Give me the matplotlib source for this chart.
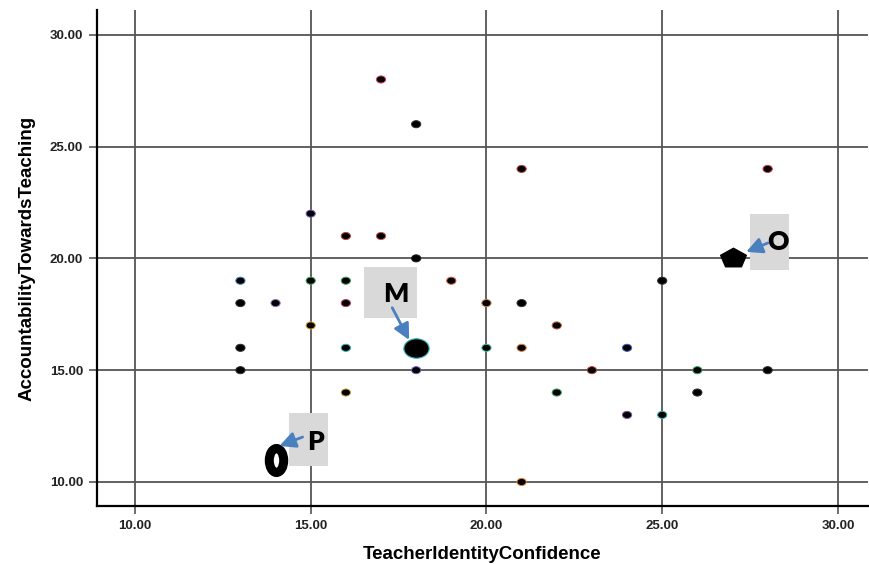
import numpy as np
import matplotlib.pyplot as plt
from matplotlib.path import Path
from matplotlib.transforms import Affine2D

# scatter data (TeacherIdentityConfidence, AccountabilityTowardsTeaching)
tic = [17, 18, 21, 28, 15, 16, 17, 18, 13, 15, 16, 19, 25, 13, 14, 16, 20, 21,
       15, 22, 13, 16, 20, 21, 24, 13, 18, 23, 26, 28, 16, 22, 26, 24, 25, 21]
att = [28, 26, 24, 24, 22, 21, 21, 20, 19, 19, 19, 19, 19, 18, 18, 18, 18, 18,
       17, 17, 16, 16, 16, 16, 16, 15, 15, 15, 15, 15, 14, 14, 14, 13, 13, 10]
edge_cols = ['#d04060', '#303030', '#c04040', '#d03050', '#8060c0', '#c04040',
             '#c05050', '#202020', '#4080c0', '#40a060', '#40a060', '#d06040',
             '#303030', '#303030', '#9070c0', '#c04060', '#c08040', '#303030',
             '#e0a020', '#c06040', '#303030', '#30b0b0', '#40c0a0', '#e08040',
             '#4060c0', '#303030', '#8060c0', '#c04040', '#40a060', '#303030',
             '#c0a040', '#40a060', '#303030', '#8050a0', '#30b0b0', '#e08030']

# highlighted cases
special_x = {'M': 18, 'O': 27, 'P': 14}
special_y = {'M': 16, 'O': 20, 'P': 11}

xticks = [10, 15, 20, 25, 30]
yticks = [10, 15, 20, 25, 30]

plt.rcParams['font.family'] = ['Liberation Sans', 'DejaVu Sans']

fig = plt.figure(figsize=(8.7, 5.64), dpi=100)
ax = fig.add_axes([0.1115, 0.103, 0.886, 0.879])

ellipse = Path.unit_circle().transformed(Affine2D().scale(1.3, 1.0))

ax.set_xlim(8.92, 30.85)
ax.set_ylim(8.93, 31.1)
ax.set_xticks(xticks)
ax.set_yticks(yticks)
ax.set_xticklabels([f'{v:.2f}' for v in xticks], fontsize=9.5, fontweight='bold', color='#222222')
ax.set_yticklabels([f'{v:.2f}' for v in yticks], fontsize=9.5, fontweight='bold', color='#222222')
ax.tick_params(axis='both', length=6, width=1.2, color='#555555', pad=4)
ax.grid(True, color='#555555', linewidth=1.3)
ax.set_axisbelow(True)
for side in ['top', 'right']:
    ax.spines[side].set_visible(False)
for side in ['left', 'bottom']:
    ax.spines[side].set_linewidth(1.6)
    ax.spines[side].set_color('black')

ax.scatter(tic, att, s=44, marker=ellipse, facecolor='black',
           edgecolor=edge_cols, linewidth=0.7, zorder=3)

# special points
ax.scatter([special_x['M']], [special_y['M']], s=330, marker=ellipse,
           facecolor='black', edgecolor='#30b0b0', linewidth=0.8, zorder=3)
ax.scatter([special_x['O']], [special_y['O']], s=340,
           marker=Path.unit_regular_polygon(5).transformed(Affine2D().scale(1.25, 0.95)),
           facecolor='black', edgecolor='black', zorder=3)
p_marker = Path.unit_circle().transformed(Affine2D().scale(0.6, 1.0))
ax.scatter([special_x['P']], [special_y['P']], s=300, marker=p_marker,
           facecolor='white', edgecolor='black', linewidth=6.5, zorder=3)

# annotation boxes
boxes = {'M': (16.52, 17.34, 1.51, 2.28), 'P': (14.37, 10.72, 1.11, 2.37),
         'O': (27.5, 19.49, 1.11, 2.5)}
for (bx, by, bw, bh) in boxes.values():
    ax.add_patch(plt.Rectangle((bx, by), bw, bh, facecolor='#d9d9d9',
                               edgecolor='none', zorder=4))

lbl_font = ['Lato', 'DejaVu Sans']
ax.text(17.43, 18.4, 'M', fontsize=19, fontweight='heavy', ha='center', va='center',
        family=lbl_font, zorder=5)
ax.text(15.13, 11.78, 'P', fontsize=19, fontweight='heavy', ha='center', va='center',
        family=lbl_font, zorder=5)
ax.text(28.3, 20.72, 'O', fontsize=19, fontweight='heavy', ha='center', va='center',
        family=lbl_font, zorder=5)

arrow = dict(arrowstyle='-|>,head_length=0.8,head_width=0.4', color='#4a7fc0',
             lw=2, mutation_scale=12, shrinkA=0, shrinkB=0)
ax.annotate('', xy=(17.8, 16.35), xytext=(17.32, 17.79), arrowprops=arrow, zorder=6)
ax.annotate('', xy=(14.11, 11.61), xytext=(14.77, 12.01), arrowprops=arrow, zorder=6)
ax.annotate('', xy=(27.39, 20.29), xytext=(28.01, 20.69), arrowprops=arrow, zorder=6)

ax.set_xlabel('TeacherIdentityConfidence', fontsize=13.5, fontweight='bold', labelpad=10)
ax.set_ylabel('AccountabilityTowardsTeaching', fontsize=13.5, fontweight='bold', labelpad=10)

fig.savefig('out.png', dpi=100)
